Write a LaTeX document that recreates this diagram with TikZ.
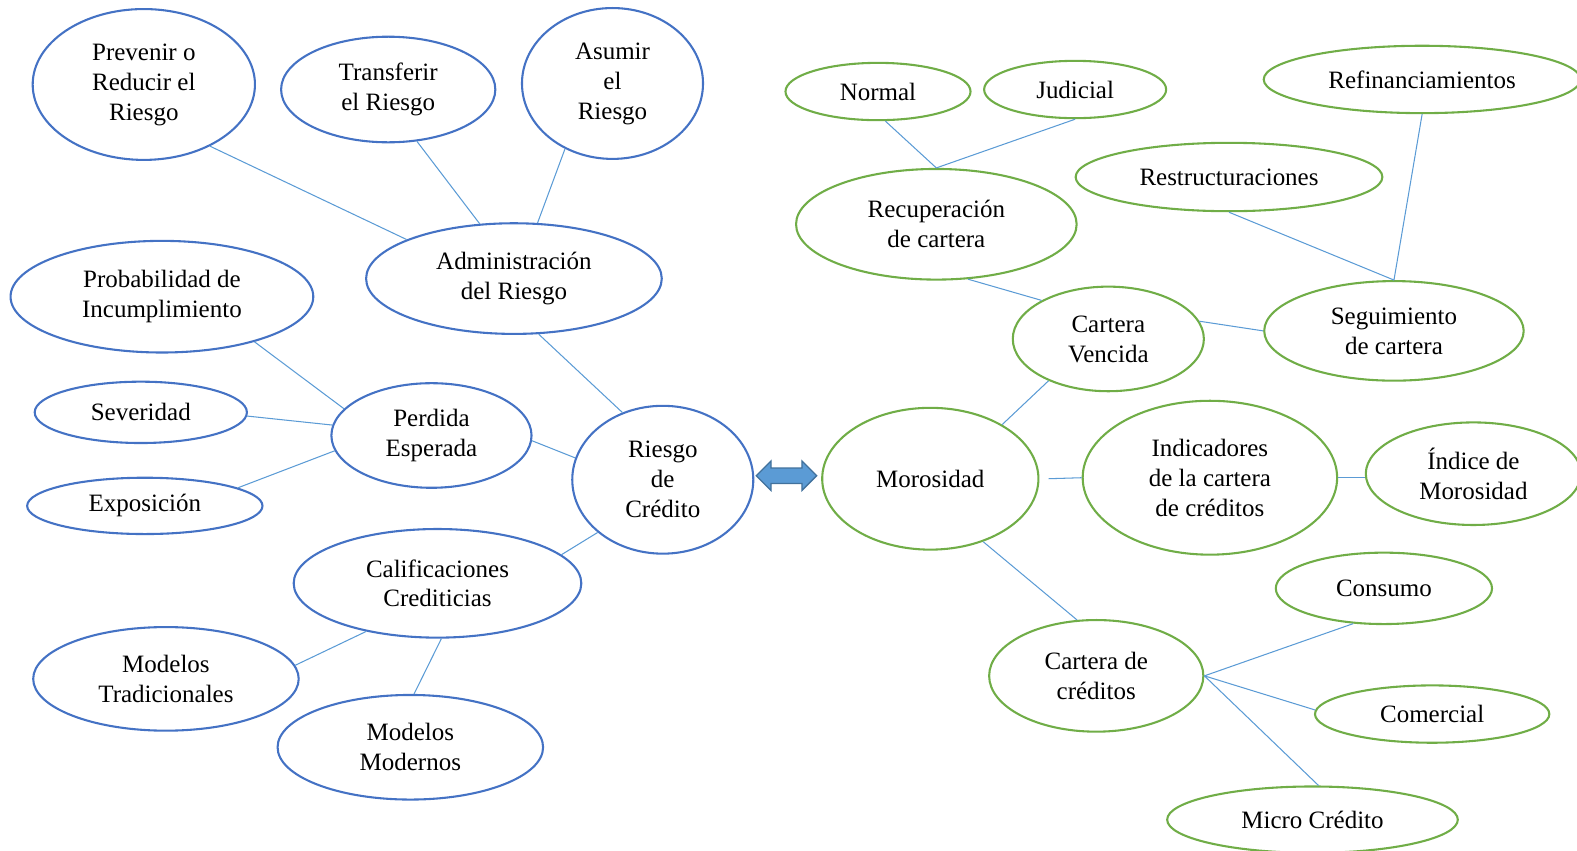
\documentclass[tikz,border=0pt]{standalone}
\usepackage{fontspec}
\setmainfont{Liberation Serif}
\usepackage{xcolor}
\usepackage{tikz}
\usetikzlibrary{shapes.geometric,shapes.arrows,positioning,calc}

\definecolor{azul}{HTML}{4472C4}
\definecolor{verde}{HTML}{70AD47}
\definecolor{enlace}{HTML}{5B9BD5}
\definecolor{borde}{HTML}{41719C}

\begin{document}
\begin{tikzpicture}[x=0.483pt,y=-0.483pt,
    ell/.style={ellipse, draw, line width=1pt, inner sep=0pt, align=center, font=\fontsize{12}{14.4}\selectfont},
    bluebox/.style={ell, draw=azul},
    greenbox/.style={ell, draw=verde},
    sz/.style 2 args={minimum width=#1*0.483pt, minimum height=#2*0.483pt},
    link/.style={draw=enlace, line width=0.5pt}]
    \useasboundingbox (0,0) rectangle (1568,846);

    % lado izquierdo: riesgo de credito
    \node[bluebox, sz={221}{150}] (prev) at (143,84) {Prevenir o\\Reducir el\\Riesgo};
    \node[bluebox, sz={213}{105}] (trans) at (386,89) {Transferir\\el Riesgo};
    \node[bluebox, sz={180}{150}] (asum) at (609,83) {Asumir\\el\\Riesgo};
    \node[bluebox, sz={294}{110}] (admin) at (511,277) {Administración\\del Riesgo};
    \node[bluebox, sz={301}{111}] (prob) at (161,295) {Probabilidad de\\Incumplimiento};
    \node[bluebox, sz={211}{61}] (sev) at (140,410) {Severidad};
    \node[bluebox, sz={199}{104}] (perd) at (429,433) {Perdida\\Esperada};
    \node[bluebox, sz={234}{56}] (expo) at (144,503) {Exposición};
    \node[bluebox, sz={180}{147}] (riesgo) at (659,477) {Riesgo\\de\\Crédito};
    \node[bluebox, sz={286}{108}] (calif) at (435,580) {Calificaciones\\Crediticias};
    \node[bluebox, sz={264}{103}] (trad) at (165,675) {Modelos\\Tradicionales};
    \node[bluebox, sz={264}{104}] (mod) at (408,743) {Modelos\\Modernos};

    % lado derecho: morosidad
    \node[greenbox, sz={184}{57}] (normal) at (873,91) {Normal};
    \node[greenbox, sz={181}{57}] (judi) at (1069,89) {Judicial};
    \node[greenbox, sz={315}{67}] (refin) at (1414,79) {Refinanciamientos};
    \node[greenbox, sz={305}{68}] (restr) at (1222,176) {Restructuraciones};
    \node[greenbox, sz={279}{110}] (recup) at (931,223) {Recuperación\\de cartera};
    \node[greenbox, sz={190}{104}] (venc) at (1102,337) {Cartera\\Vencida};
    \node[greenbox, sz={258}{99}] (segui) at (1386,329) {Seguimiento\\de cartera};
    \node[greenbox, sz={215}{141}] (moros) at (925,476) {Morosidad};
    \node[greenbox, sz={253}{153}] (indic) at (1203,475) {Indicadores\\de la cartera\\de créditos};
    \node[greenbox, sz={214}{102}] (indice) at (1465,471) {Índice de\\Morosidad};
    \node[greenbox, sz={215}{71}] (cons) at (1376,585) {Consumo};
    \node[greenbox, sz={213}{111}] (cart) at (1090,672) {Cartera de\\créditos};
    \node[greenbox, sz={233}{57}] (comer) at (1424,710) {Comercial};
    \node[greenbox, sz={289}{66}] (micro) at (1305,815) {Micro Crédito};

    \node[double arrow, fill=enlace, draw=borde, line width=0.6pt, inner xsep=0pt, inner ysep=7*0.483pt,
          text height=0pt, text depth=0pt, minimum height=60*0.483pt,
          double arrow head extend=7*0.483pt] (flecha) at (782,473) {};

    % conectores
    \draw[link] (prev.-43) -- (admin.160);
    \draw[link] (trans.-61) -- (admin.122);
    \draw[link] (asum.234) -- (admin.67);
    \draw[link] (admin.-66) -- (riesgo.121);
    \draw[link] (prob.-26) -- (perd.163);
    \draw[link] (sev.-2) -- (perd.174);
    \draw[link] (expo.11) -- (perd.189);
    \draw[link] (perd.-3) -- (riesgo.166);
    \draw[link] (calif.13) -- (riesgo.219);
    \draw[link] (calif.-146) -- (trad.6);
    \draw[link] (calif.-86) -- (mod.86);

    \draw[link] (normal.-76) -- (recup.north);
    \draw[link] (judi.south) -- (recup.north);
    \draw[link] (recup.-60) -- (venc.150);
    \draw[link] (venc.11) -- (segui.west);
    \draw[link] (restr.south) -- (segui.north);
    \draw[link] (refin.south) -- (segui.north);
    \draw[link] (moros.37) -- (venc.-145);
    \draw[link] ([xshift=9*0.483pt]moros.east) -- (indic.west);
    \draw[link] (indic.east) -- (indic.east -| indice.west);
    \draw[link] (moros.-50) -- (cart.109);
    \draw[link] (cart.east) -- (cons.-131);
    \draw[link] (cart.east) -- (comer.178);
    \draw[link] (cart.east) -- (micro.80);
\end{tikzpicture}
\end{document}
